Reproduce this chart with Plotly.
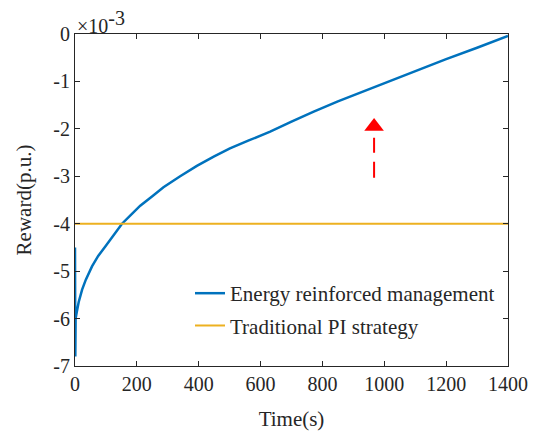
import plotly.graph_objects as go

# Reward of the learned energy management policy (units of 1e-3 p.u.)
time_s = [0, 1, 2, 6, 12, 23, 35, 55, 75, 98, 125, 152, 180, 211, 250, 286,
          340, 394, 450, 501, 560, 631, 700, 770, 850, 943, 1030, 1115, 1200,
          1300, 1400]
reward_rl = [-4.5, -6.8, -6.0, -5.85, -5.65, -5.39, -5.18, -4.9, -4.68, -4.48,
             -4.23, -4.0, -3.82, -3.62, -3.42, -3.23, -3.0, -2.78, -2.58, -2.41,
             -2.25, -2.06, -1.85, -1.64, -1.42, -1.18, -0.96, -0.74, -0.53,
             -0.29, -0.04]

# Constant reward of the conventional PI controller
pi_time = [0, 1400]
reward_pi = [-4.0, -4.0]

# Improvement arrow (shaft and head)
arrow_x = [967, 967]
arrow_y = [-3.03, -2.19]
arrow_head_x = [967]
arrow_head_y = [-1.95]

x_ticks = [0, 200, 400, 600, 800, 1000, 1200, 1400]
y_ticks = [0, -1, -2, -3, -4, -5, -6, -7]
y_tick_text = ["0", "-1", "-2", "-3", "-4", "-5", "-6", "-7"]

FONT = "Liberation Serif"
AXIS_COLOR = "#262626"

fig = go.Figure()

fig.add_trace(go.Scatter(
    x=time_s, y=reward_rl, mode="lines",
    name="Energy reinforced management",
    line=dict(color="#0072BD", width=2.5),
    legendgroup="a",
))
fig.add_trace(go.Scatter(
    x=pi_time, y=reward_pi, mode="lines",
    name="Traditional PI strategy",
    line=dict(color="#EDB120", width=2),
    legendgroup="b",
))
fig.add_trace(go.Scatter(
    x=arrow_x, y=arrow_y, mode="lines", showlegend=False,
    line=dict(color="#FF0000", width=2, dash="16px,9px"),
    hoverinfo="skip",
))
fig.add_trace(go.Scatter(
    x=arrow_head_x, y=arrow_head_y, mode="markers", showlegend=False,
    marker=dict(symbol="triangle-up", size=17, color="#FF0000",
                line=dict(width=0)),
    hoverinfo="skip",
))

axis_common = dict(
    showline=True, linecolor=AXIS_COLOR, linewidth=1, mirror="ticks",
    ticks="inside", ticklen=5, tickcolor=AXIS_COLOR, tickwidth=1,
    showgrid=False, zeroline=False, automargin=False,
    tickfont=dict(family=FONT, size=20, color=AXIS_COLOR),
)

fig.update_xaxes(
    range=[0, 1400], tickvals=x_ticks,
    title=dict(text="Time(s)", font=dict(family=FONT, size=21, color=AXIS_COLOR),
               standoff=17),
    **axis_common,
)
fig.update_yaxes(
    range=[-7, 0], tickvals=y_ticks, ticktext=y_tick_text,
    title=dict(text="Reward(p.u.)", font=dict(family=FONT, size=21, color=AXIS_COLOR),
               standoff=15),
    **axis_common,
)

# Exponent label of the y axis
fig.add_annotation(
    xref="paper", yref="paper", x=0, y=1, xanchor="left", yanchor="bottom",
    xshift=0, yshift=-5,
    text="×10<sup><span style='font-size:20px'>-3</span></sup>",
    showarrow=False,
    font=dict(family=FONT, size=20, color=AXIS_COLOR),
)

fig.update_layout(
    width=546, height=435,
    margin=dict(l=75, r=38, t=34, b=69),
    paper_bgcolor="white", plot_bgcolor="white",
    showlegend=True,
    legend=dict(
        x=0.2656, y=0.28, xanchor="left", yanchor="top",
        xref="paper", yref="paper",
        bgcolor="rgba(0,0,0,0)", borderwidth=0,
        font=dict(family=FONT, size=21, color=AXIS_COLOR),
        tracegroupgap=2,
    ),
)

fig.write_html("out.html")
